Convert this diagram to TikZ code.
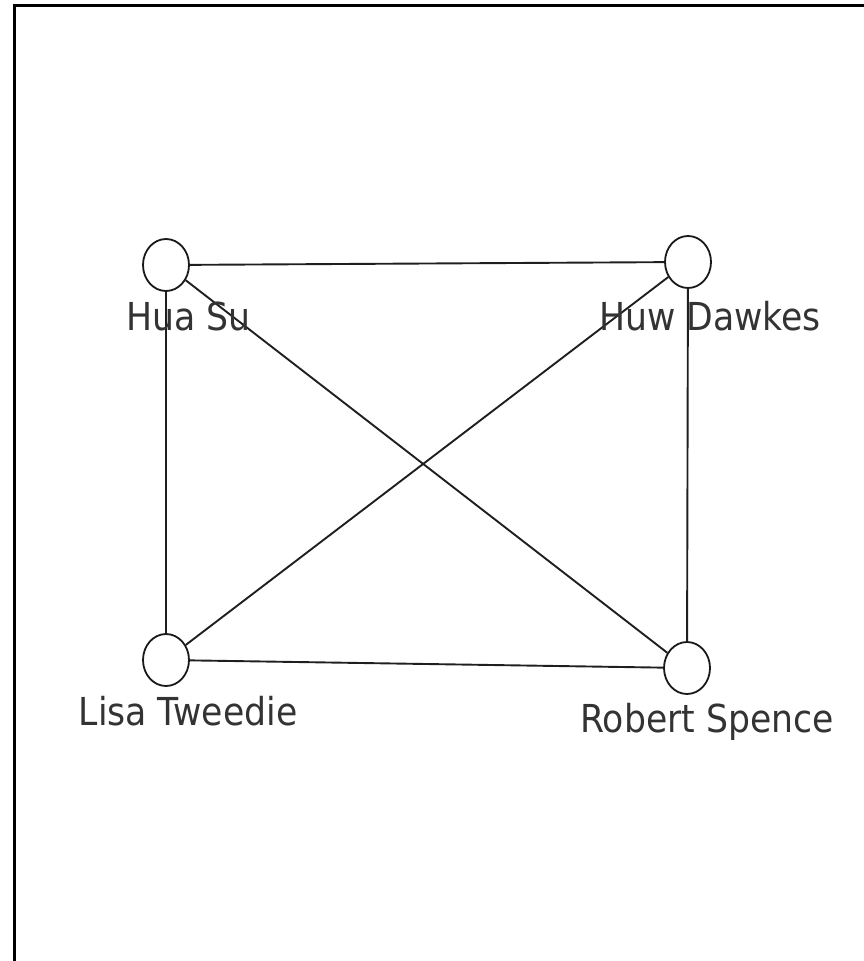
\documentclass[tikz,border=0pt]{standalone}
\usepackage{fontspec}
\setmainfont{DejaVu Sans}[FakeStretch=0.9]
\usetikzlibrary{shapes.geometric}
\begin{document}
\begin{tikzpicture}[x=1pt,y=-1pt,
  person/.style={draw=black!90, line width=1.8pt, ellipse, minimum width=46pt, minimum height=52pt, inner sep=0pt, fill=white},
  lbl/.style={anchor=base, inner sep=0pt, text=black!80, font=\fontsize{38.5}{40}\selectfont},
  edge/.style={draw=black!88, line width=1.9pt},
  frame/.style={draw=black, line width=2.7pt}]
\useasboundingbox (0,0) rectangle (863,961);
\coordinate (fb) at (14.7,962);
\coordinate (fc) at (14.7,5.3);
\coordinate (fr) at (864,5.3);
\draw[frame] (fb) -- (fc) -- (fr);
\node[person] (hua) at (166,265) {};
\node[person] (huw) at (688,262) {};
\node[person] (lisa) at (166,660) {};
\node[person] (rob) at (687,668) {};
\draw[edge] (hua) -- (huw);
\draw[edge] (hua) -- (lisa);
\draw[edge] (hua) -- (rob);
\draw[edge] (huw) -- (lisa);
\draw[edge] (huw) -- (rob);
\draw[edge] (lisa) -- (rob);
\node[lbl] (lhua) at (188.5,330) {Hua Su};
\node[lbl] (lhuw) at (710,330) {Huw Dawkes};
\node[lbl] (llisa) at (188,725) {Lisa Tweedie};
\node[lbl] (lrob) at (707,732) {Robert Spence};
\end{tikzpicture}
\end{document}
